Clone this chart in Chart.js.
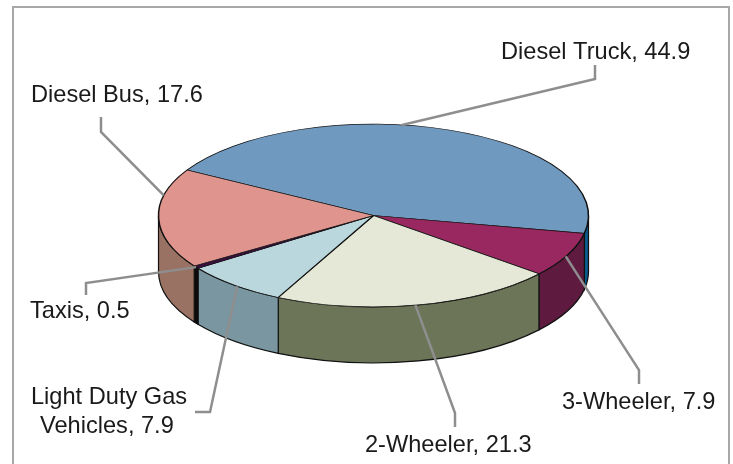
<!DOCTYPE html>
<html><head><meta charset="utf-8">
<style>html,body{margin:0;padding:0;background:#fff}canvas{display:block}</style>
<script src="https://cdn.jsdelivr.net/npm/chart.js@4"></script></head>
<body><canvas id="c" width="733" height="464"></canvas>
<script>
const categories=["Diesel Truck","3-Wheeler","2-Wheeler","Light Duty Gas Vehicles","Taxis","Diesel Bus"];
const values=[44.9,7.9,21.3,7.9,0.5,17.6];
const topColors=["#7099bf","#98285f","#e5e8d6","#bad7de","#3a1040","#df948d"];
const sideColors=["#0a5a8c","#5f1a40","#6c7558","#7996a1","#0a0a0a","#9a7264"];
const labelLines=[["Diesel Truck, 44.9"],["3-Wheeler, 7.9"],["2-Wheeler, 21.3"],["Light Duty Gas","Vehicles, 7.9"],["Taxis, 0.5"],["Diesel Bus, 17.6"]];
const labelAt=[[501,59],[562,409],[365,452],[31,404],[30,318],[31,102]];
const lineGap=28.5, lineIndent=[0,9];
const elbows=[[[595,65],[595,79]],[[639,384],[639,370]],[[455,427],[455,413]],[[195,412],[210,412]],[[86,295],[86,283]],[[101,117],[101,132]]];
const anchorFrac=[0.42,0.54,0.51,0.46,0.5,0.73];
const CY=215.5,SQ=0.425,DEPTH=56;
const threeD={id:'threeD',
 beforeDatasetsDraw(chart){
  const ctx=chart.ctx,arcs=chart.getDatasetMeta(0).data;
  arcs.forEach((a,i)=>{
   for(let k=-1;k<=1;k++){
    const s=Math.max(a.startAngle+k*2*Math.PI,0),e=Math.min(a.endAngle+k*2*Math.PI,Math.PI);
    if(e<=s)continue;
    const rx=a.outerRadius,ry=rx*SQ;
    ctx.beginPath();
    ctx.ellipse(a.x,CY,rx,ry,0,s,e);
    ctx.ellipse(a.x,CY+DEPTH,rx,ry,0,e,s,true);
    ctx.closePath();
    ctx.fillStyle=sideColors[i];ctx.fill();
    ctx.strokeStyle='#111';ctx.lineWidth=1.2;ctx.stroke();
   }
  });
 },
 beforeDatasetDraw(chart){
  const ctx=chart.ctx,a=chart.getDatasetMeta(0).data[0];
  ctx.save();ctx.translate(0,CY);ctx.scale(1,SQ);ctx.translate(0,-a.y);
 },
 afterDatasetDraw(chart){chart.ctx.restore();},
 afterDraw(chart){
  const ctx=chart.ctx,arcs=chart.getDatasetMeta(0).data;
  ctx.save();
  ctx.strokeStyle='#a8a8a8';ctx.lineWidth=2;
  ctx.beginPath();ctx.moveTo(13,464);ctx.lineTo(13,7);ctx.lineTo(729,7);ctx.lineTo(729,464);ctx.stroke();
  arcs.forEach((a,i)=>{
   const t=a.startAngle+(a.endAngle-a.startAngle)*anchorFrac[i];
   const ax=a.x+a.outerRadius*Math.cos(t),ay=CY+a.outerRadius*SQ*Math.sin(t);
   ctx.strokeStyle='#8e8e8e';ctx.lineWidth=2.5;ctx.lineJoin='miter';
   ctx.beginPath();ctx.moveTo(elbows[i][0][0],elbows[i][0][1]);ctx.lineTo(elbows[i][1][0],elbows[i][1][1]);ctx.lineTo(ax,ay);ctx.stroke();
   ctx.fillStyle='#1a1a1a';ctx.font='23.6px "Liberation Sans"';ctx.textAlign='left';ctx.textBaseline='alphabetic';
   labelLines[i].forEach((l,j)=>ctx.fillText(l,labelAt[i][0]+lineIndent[j],labelAt[i][1]+j*lineGap));
  });
  ctx.restore();
 }};
new Chart(document.getElementById('c'),{type:'pie',
 data:{labels:categories,datasets:[{data:values,backgroundColor:topColors,borderColor:'#111',borderWidth:1.5,clip:false}]},
 options:{responsive:false,animation:false,rotation:299.8,radius:215,layout:{padding:{left:14}},
  plugins:{legend:{display:false},tooltip:{enabled:false}}},
 plugins:[threeD]});
</script></body></html>
